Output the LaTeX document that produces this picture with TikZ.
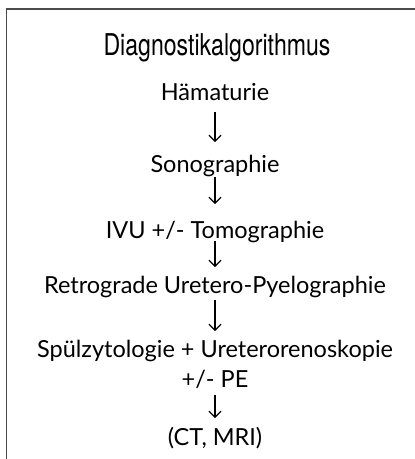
\documentclass[tikz,border=0pt]{standalone}
\usepackage{fontspec}
\setmainfont{Lato}
\newfontfamily\titlefont[FakeStretch=0.77]{TeX Gyre Heros}
\usetikzlibrary{arrows.meta}
\tikzset{
  frame/.style={draw=black!70, line width=1.3pt},
  stepnode/.style={anchor=base, inner sep=0pt, font=\fontsize{23.5}{26}\selectfont},
  titlenode/.style={anchor=base, inner sep=0pt, font=\titlefont\fontsize{30}{32}\selectfont},
  flow/.style={line width=1.2pt, -{Straight Barb[length=6pt,width=12pt,line width=1.2pt]}}
}
\begin{document}
\begin{tikzpicture}[x=1pt,y=-1pt]
\useasboundingbox (0,0) rectangle (415,459);
\draw[frame] (6.5,459) -- (6.5,9) -- (415,9);
\node[titlenode] (t) at (217,55) {Diagnostikalgorithmus};
\node[stepnode] (a) at (215,100) {Hämaturie};
\node[stepnode] (b) at (215,172) {Sonographie};
\node[stepnode] (c) at (215,238) {IVU +/- Tomographie};
\node[stepnode] (d) at (215,293) {Retrograde Uretero-Pyelographie};
\node[stepnode] (e) at (215,357) {Spülzytologie + Ureterorenoskopie};
\node[stepnode] (e2) at (215,387) {+/- PE};
\node[stepnode] (f) at (215,445) {(CT, MRI)};
\draw[flow, shorten <=12pt, shorten >=30pt] (a.base) -- (b.base);
\draw[flow, shorten <=5pt, shorten >=34pt] (b.base) -- (c.base);
\draw[flow, shorten <=3pt, shorten >=26pt] (c.base) -- (d.base);
\draw[flow, shorten <=7pt, shorten >=26pt] (d.base) -- (e.base);
\draw[flow, shorten <=8pt, shorten >=27pt] (e2.base) -- (f.base);
\end{tikzpicture}
\end{document}
